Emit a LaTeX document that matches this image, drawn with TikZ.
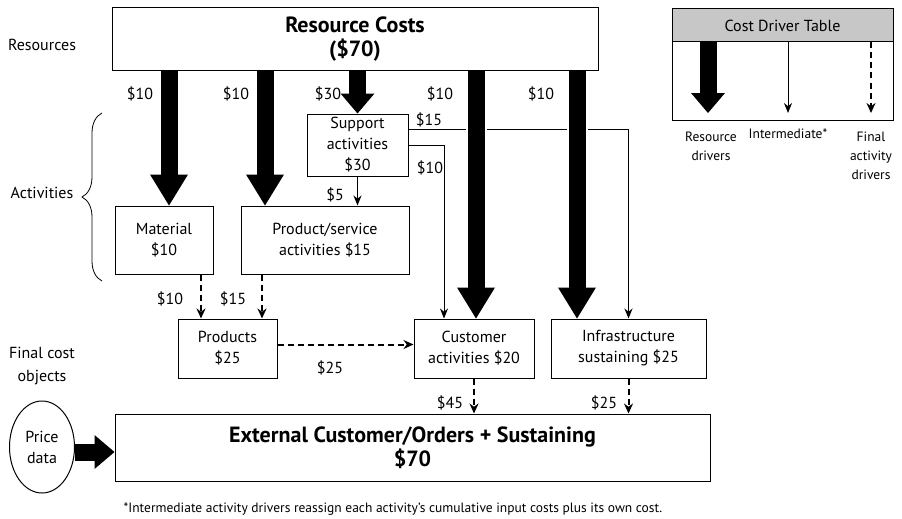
\documentclass[tikz,border=0pt]{standalone}
\usepackage{fontspec}
\setmainfont{PT Sans}
\usetikzlibrary{arrows.meta,decorations.pathreplacing,shapes.geometric,calc}
\tikzstyle{box}=[rectangle, draw=black, line width=1pt, fill=white, inner sep=0pt, anchor=center, align=center, font=\fontsize{16}{21}\selectfont]
\tikzstyle{bigbox}=[box, font=\bfseries\fontsize{22}{24}\selectfont]
\tikzstyle{annot}=[align=center, font=\fontsize{16}{23}\selectfont]
\tikzstyle{small}=[align=center, font=\fontsize{13.5}{19}\selectfont]
\tikzstyle{resdriver}=[line width=17pt, -{Triangle[length=31pt,width=38pt,line width=0pt]},
  preaction={draw=white, line width=21pt, arrows=-, shorten <=1pt, shorten >=31pt}]
\tikzstyle{resdrivershort}=[line width=17pt, -{Triangle[length=20pt,width=34pt,line width=0pt]},
  preaction={draw=white, line width=21pt, arrows=-, shorten <=1pt, shorten >=20pt}]
\tikzstyle{interdriver}=[line width=1pt, -{Stealth[length=10pt,width=8pt]}]
\tikzstyle{finaldriver}=[line width=2pt, dash pattern=on 6pt off 4pt, -{Stealth[length=10pt,width=9pt]}]
\newcommand{\drawlegend}[0]
{
  \node[box, minimum width=221pt, minimum height=111pt](legend) at (782.5,64.5){};
  \node[box, fill=black!22, minimum width=221pt, minimum height=33pt, font=\fontsize{16}{18}\selectfont](legendhead) at (782.5,25.5){Cost Driver Table};
  \coordinate (legR) at (708,113);
  \coordinate (legI) at (788,113);
  \coordinate (legF) at (871,113);
  \draw[resdrivershort] (legendhead.south -| legR) -- (legR);
  \draw[interdriver] (legendhead.south -| legI) -- (legI);
  \draw[finaldriver] (legendhead.south -| legF) -- (legF);
  \node[small](legRtxt) at (711,146.5) {Resource\\drivers};
  \node[small](legItxt) at (788,134) {Intermediate*};
  \node[small](legFtxt) at (871,156) {Final\\activity\\drivers};
}

\begin{document}
\begin{tikzpicture}[x=1pt, y=-1pt]
	\useasboundingbox (0,0) rectangle (902,519);

	% row labels
	\node[annot](lres) at (42,45) {Resources};
	\node[annot](lact) at (42,193) {Activities};
	\node[annot](lfin) at (42,366) {Final cost\\objects};
	\draw[decorate, decoration={brace, amplitude=20pt}, line width=0.8pt] (102,281) -- (102,113);

	% boxes
	\node[bigbox, minimum width=486pt, minimum height=63pt](res) at (355,39.5) {Resource Costs\\(\$70)};
	\node[box, minimum width=101pt, minimum height=62pt](sup) at (357.5,145) {Support\\activities\\\$30};
	\node[box, minimum width=98pt, minimum height=68pt](mat) at (164,240) {Material\\\$10};
	\node[box, minimum width=168pt, minimum height=68pt](psa) at (325,240) {Product/service\\activities \$15};
	\node[box, minimum width=99pt, minimum height=59pt](prd) at (227.5,348.5) {Products\\\$25};
	\node[box, minimum width=120pt, minimum height=59pt](cust) at (474,348.5) {Customer\\activities \$20};
	\node[box, minimum width=155pt, minimum height=59pt](infra) at (628.5,348.5) {Infrastructure\\sustaining \$25};
	\node[bigbox, minimum width=595pt, minimum height=67pt](ext) at (412.5,447.5) {External Customer/Orders + Sustaining\\\$70};
	\node[box, ellipse, minimum width=65pt, minimum height=92pt](price) at (42,447) {Price\\data};

	% intermediate drivers
	\draw[interdriver] (sup.south) -- (sup.south |- psa.north);
	\draw[interdriver] (sup.east) -| (444,0 |- cust.north);
	\draw[interdriver] (sup.east |- 0,129) -| (infra.north);

	% resource drivers
	\draw[resdriver] (169,0 |- res.south) -- (169,0 |- mat.north);
	\draw[resdriver] (265,0 |- res.south) -- (265,0 |- psa.north);
	\draw[resdrivershort] (sup.north |- res.south) -- (sup.north);
	\draw[resdriver] (476,0 |- res.south) -- (476,0 |- cust.north);
	\draw[resdriver] (577,0 |- res.south) -- (577,0 |- infra.north);
	\draw[resdrivershort] ([yshift=-5pt]price.east) -- ([yshift=-5pt]price.east -| ext.west);

	% final activity drivers
	\draw[finaldriver] (201,0 |- mat.south) -- (201,0 |- prd.north);
	\draw[finaldriver] (262,0 |- psa.south) -- (262,0 |- prd.north);
	\draw[finaldriver] ([yshift=4pt]prd.east) -- ([yshift=4pt]prd.east -| cust.west);
	\draw[finaldriver] (cust.south) -- (cust.south |- ext.north);
	\draw[finaldriver] (infra.south) -- (infra.south |- ext.north);

	% cost values
	\node[annot](c1) at (140,94) {\$10};
	\node[annot](c2) at (236,94) {\$10};
	\node[annot](c3) at (328,94) {\$30};
	\node[annot](c4) at (440,94) {\$10};
	\node[annot](c5) at (541,94) {\$10};
	\node[annot](c6) at (429,120) {\$15};
	\node[annot](c7) at (430,168) {\$10};
	\node[annot](c8) at (335,195) {\$5};
	\node[annot](c9) at (170,299) {\$10};
	\node[annot](c10) at (233,299) {\$15};
	\node[annot](c11) at (330,368) {\$25};
	\node[annot](c12) at (450,403) {\$45};
	\node[annot](c13) at (604,403) {\$25};

	\drawlegend{}

	\node[small](note) at (393,509) {*Intermediate activity drivers reassign each activity's cumulative input costs plus its own cost.};

\end{tikzpicture}
\end{document}
